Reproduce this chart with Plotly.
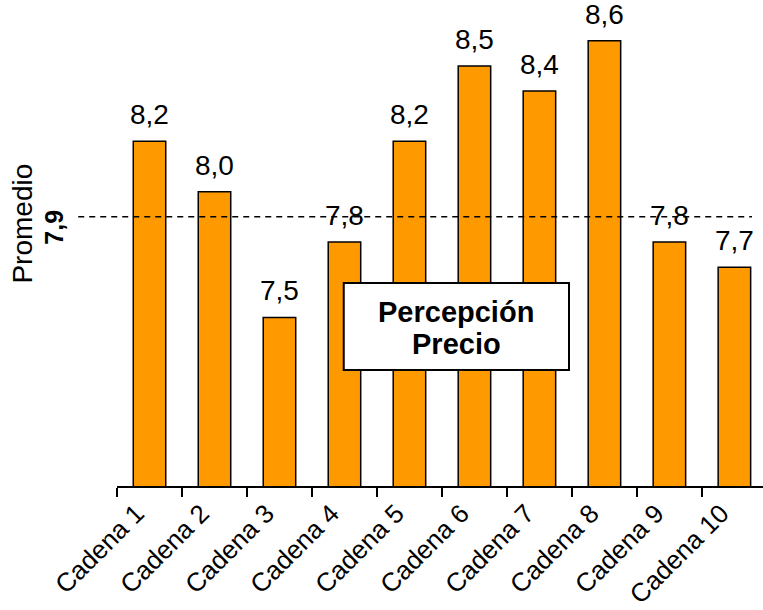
import plotly.graph_objects as go

# Price-perception score per retail chain
cadenas = ["Cadena 1", "Cadena 2", "Cadena 3", "Cadena 4", "Cadena 5",
           "Cadena 6", "Cadena 7", "Cadena 8", "Cadena 9", "Cadena 10"]
puntajes = [8.2, 8.0, 7.5, 7.8, 8.2, 8.5, 8.4, 8.6, 7.8, 7.7]
promedio = 7.9

FONT = "Liberation Sans, Arial, sans-serif"
NARANJA = "#FF9900"


def coma(v):
    return f"{v:.1f}".replace(".", ",")


fig = go.Figure()
fig.add_trace(go.Bar(
    x=cadenas,
    y=puntajes,
    width=0.5,
    marker=dict(color=NARANJA, line=dict(color="black", width=1.5)),
    cliponaxis=False,
    hoverinfo="skip",
))

# value labels above each bar
for c, v in zip(cadenas, puntajes):
    fig.add_annotation(x=c, y=v, xref="x", yref="y", text=coma(v),
                       showarrow=False, yanchor="bottom", yshift=9,
                       font=dict(family=FONT, size=28, color="black"))

# average reference line
fig.add_shape(type="line", xref="paper", yref="y",
              x0=-0.06, x1=0.983, y0=promedio, y1=promedio,
              line=dict(color="black", width=1.5, dash="6px,5px"))

# side labels for the average
fig.add_annotation(xref="paper", yref="paper", x=-0.1455, y=0.54,
                   xanchor="center", yanchor="middle",
                   text="Promedio", textangle=-90, showarrow=False,
                   font=dict(family=FONT, size=28, color="black"))
fig.add_annotation(xref="paper", yref="paper", x=-0.098, y=0.533,
                   xanchor="center", yanchor="middle",
                   text="<b>" + coma(promedio) + "</b>", textangle=-90,
                   showarrow=False,
                   font=dict(family=FONT, size=25, color="black"))

# title box
fig.add_shape(type="rect", xref="paper", yref="paper",
              x0=0.351, x1=0.6997, y0=0.2387, y1=0.4177,
              fillcolor="white", line=dict(color="black", width=2),
              layer="above")
for linea, yy in (("Percepción", 0.358), ("Precio", 0.292)):
    fig.add_annotation(xref="paper", yref="paper", x=0.5248, y=yy,
                       xanchor="center", yanchor="middle",
                       text="<b>" + linea + "</b>", showarrow=False,
                       font=dict(family=FONT, size=29, color="black"))

fig.update_layout(
    width=763, height=610,
    margin=dict(l=117, r=0, t=0, b=124, autoexpand=False),
    plot_bgcolor="white", paper_bgcolor="white",
    showlegend=False,
    xaxis=dict(
        type="category",
        range=[-0.5, 9.44],
        automargin=False,
        tickson="boundaries",
        ticks="outside", ticklen=9, tickwidth=1.5, tickcolor="black",
        showline=True, linecolor="black", linewidth=2,
        tickangle=-45,
        ticklabelshift=-13,
        ticklabelstandoff=0,
        tickfont=dict(family=FONT, size=26, color="black"),
        showgrid=False, zeroline=False,
    ),
    yaxis=dict(
        range=[6.83, 8.762],
        visible=False,
        automargin=False,
        showgrid=False, zeroline=False,
    ),
)

fig.write_html("out.html")
